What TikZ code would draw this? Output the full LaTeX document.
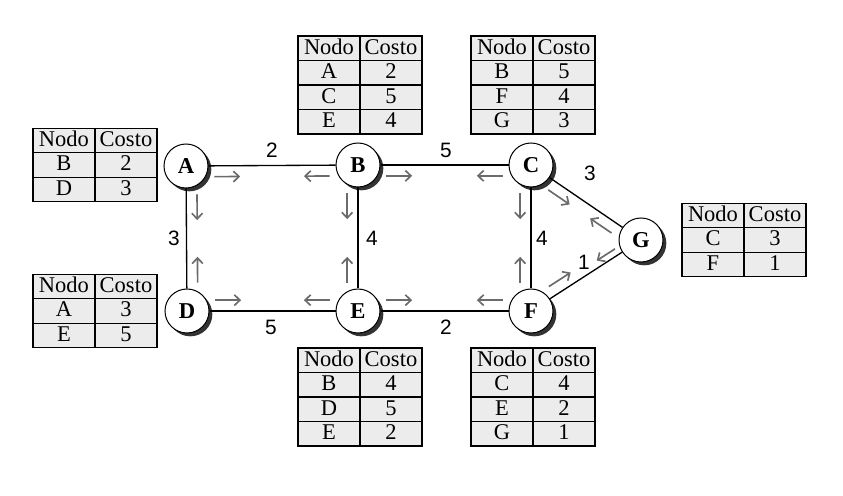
\documentclass[tikz,border=0pt]{standalone}
\usepackage{fontspec}
\setmainfont{Liberation Serif}
\newfontfamily\sinserif{Liberation Sans}
\usepackage{xcolor}
\usepackage{tikz}
\usetikzlibrary{calc,matrix,shadows,arrows.meta}

\begin{document}
\begin{tikzpicture}[x=0.6pt,y=-0.6pt]
% Estilos
\tikzstyle{arista}=[line width=0.8pt]
\tikzstyle{flechita}=[-{Straight Barb[length=3.4pt,width=6.4pt]},line width=1pt,black!58]
\tikzstyle{nodo}=[circle,draw,fill=white,line width=0.6pt,minimum size=26.4pt,inner sep=0pt,
  font=\fontsize{13.6}{15}\selectfont\bfseries,
  drop shadow={shadow xshift=2pt,shadow yshift=-2pt,fill=black!80,opacity=1}]
\tikzstyle{peso}=[inner sep=1pt,font=\sinserif\fontsize{12.5}{14}\selectfont]
\tikzstyle{tabla}=[matrix of nodes,column sep=-0.8pt,row sep=-0.8pt,
  nodes={draw,line width=0.8pt,fill=gray!15,minimum width=37.2pt,minimum height=14.7pt,
  inner sep=0pt,text height=9.6pt,text depth=2.6pt,font=\fontsize{13.5}{14}\selectfont}]
% Dimensiones de las flechitas
\def\Inicio{17pt}
\def\Fin{32.5pt}
\def\Sep{6.5pt}
\def\flecha#1#2#3{\draw[flechita] ($(#1)!\Inicio!(#2)!\Sep!#3:(#2)$) -- ($(#1)!\Fin!(#2)!\Sep!#3:(#2)$);}
\useasboundingbox (0,0) rectangle (843,496);
% Nodos
\node[nodo] (A) at (186,166) {A};
\node[nodo] (B) at (358,165) {B};
\node[nodo] (C) at (531,165) {C};
\node[nodo] (D) at (187,311) {D};
\node[nodo] (E) at (358,311) {E};
\node[nodo] (F) at (531,311) {F};
\node[nodo] (G) at (641,240) {G};
% Aristas
\draw[arista] (A)--(B);
\draw[arista] (B)--(C);
\draw[arista] (A)--(D);
\draw[arista] (B)--(E);
\draw[arista] (C)--(F);
\draw[arista] (D)--(E);
\draw[arista] (E)--(F);
\draw[arista] (C)--(G);
\draw[arista] (F)--(G);
% Pesos
\node[peso] (pAB) at (272,150) {2};
\node[peso] (pBC) at (446,150) {5};
\node[peso] (pAD) at (174,238) {3};
\node[peso] (pBE) at (372,238) {4};
\node[peso] (pCF) at (542,238) {4};
\node[peso] (pDE) at (271,327) {5};
\node[peso] (pEF) at (446,327) {2};
\node[peso] (pCG) at (590,173) {3};
\node[peso] (pFG) at (584,262) {1};
% Flechitas
\flecha{A}{B}{-90} \flecha{B}{A}{90}
\flecha{B}{C}{-90} \flecha{C}{B}{90}
\flecha{D}{E}{90}  \flecha{E}{D}{-90}
\flecha{E}{F}{90}  \flecha{F}{E}{-90}
\flecha{A}{D}{90}  \flecha{D}{A}{-90}
\flecha{B}{E}{-90} \flecha{E}{B}{90}
\flecha{C}{F}{-90} \flecha{F}{C}{90}
\flecha{C}{G}{-90} \flecha{G}{C}{90}
\flecha{F}{G}{90}
\def\Inicio{16pt}\def\Fin{29pt}\def\Sep{4pt}
\flecha{G}{F}{-90}
% Tablas
\matrix[tabla] (tA) at (95,165) {
Nodo & Costo \\
B & 2 \\
D & 3 \\
};
\matrix[tabla] (tD) at (95,311) {
Nodo & Costo \\
A & 3 \\
E & 5 \\
};
\matrix[tabla] (tB) at (360,85) {
Nodo & Costo \\
A & 2 \\
C & 5 \\
E & 4 \\
};
\matrix[tabla] (tC) at (533,85) {
Nodo & Costo \\
B & 5 \\
F & 4 \\
G & 3 \\
};
\matrix[tabla] (tE) at (360,397) {
Nodo & Costo \\
B & 4 \\
D & 5 \\
E & 2 \\
};
\matrix[tabla] (tF) at (533,397) {
Nodo & Costo \\
C & 4 \\
E & 2 \\
G & 1 \\
};
\matrix[tabla] (tG) at (744,240) {
Nodo & Costo \\
C & 3 \\
F & 1 \\
};
\end{tikzpicture}
\end{document}
